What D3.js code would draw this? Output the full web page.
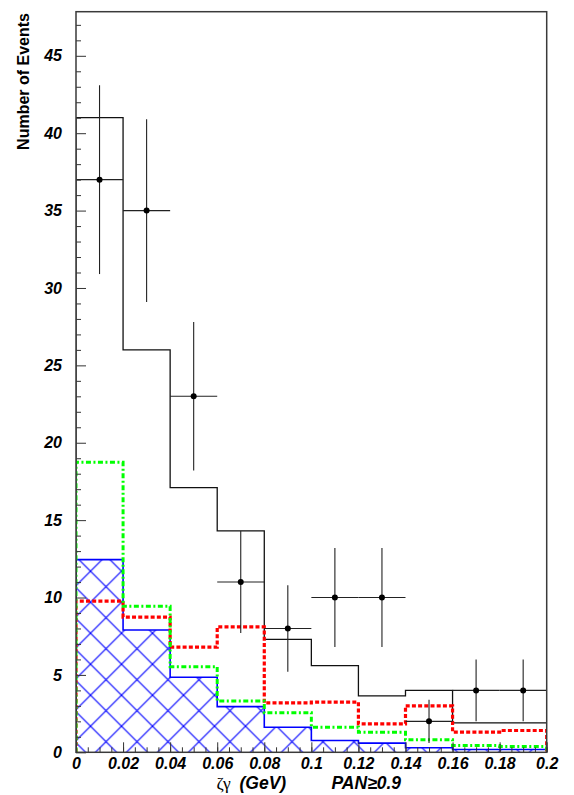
<!DOCTYPE html>
<html>
<head>
<meta charset="utf-8">
<script src="https://cdn.jsdelivr.net/npm/d3@7"></script>
<style>
  html, body { margin: 0; padding: 0; background: #fff; }
  svg { display: block; }
</style>
</head>
<body>
<script>
// ---- data ----
const binEdges = [0, 0.02, 0.04, 0.06, 0.08, 0.10, 0.12, 0.14, 0.16, 0.18, 0.20];
const totalMC = [41.0, 26.0, 17.1, 14.3, 7.3, 5.6, 3.65, 4.0, 1.9, 1.9];
const blueBkg = [12.45, 7.9, 4.85, 2.95, 1.62, 0.76, 0.59, 0.29, 0.18, 0.18];
const redDashed = [9.77, 8.74, 6.8, 8.1, 3.19, 3.24, 1.84, 3.0, 1.3, 1.41];
const greenDashDot = [18.74, 9.43, 5.52, 3.32, 2.55, 1.62, 1.3, 0.81, 0.44, 0.38];
const dataX = [0.01, 0.03, 0.05, 0.07, 0.09, 0.11, 0.13, 0.15, 0.17, 0.19];
const dataY = [37, 35, 23, 11, 8, 10, 10, 2, 4, 4];
const dataErr = [6.1, 5.9, 4.8, 3.3, 2.8, 3.2, 3.2, 1.4, 2.0, 2.0];
const xTickValues = [0, 0.02, 0.04, 0.06, 0.08, 0.1, 0.12, 0.14, 0.16, 0.18, 0.2];
const yTickValues = [0, 5, 10, 15, 20, 25, 30, 35, 40, 45];
const xTitleVar = "ζγ";
const xTitleUnit = "(GeV)";
const cutLabel = "PAN≥0.9";
const yTitle = "Number of Events";

// ---- layout ----
const W = 574, H = 795;
const L = 76, R = 546.7, T = 11.7, B = 752.3;
const yMax = 47.85;

const svg = d3.select("body").append("svg").attr("width", W).attr("height", H);
const x = d3.scaleLinear().domain([0, 0.2]).range([L, R]);
const y = d3.scaleLinear().domain([0, yMax]).range([B, T]);

const defs = svg.append("defs");
defs.append("clipPath").attr("id", "plotclip")
  .append("rect").attr("x", L).attr("y", T).attr("width", R - L).attr("height", B - T);
const pat = defs.append("pattern").attr("id", "hatch")
  .attr("patternUnits", "userSpaceOnUse")
  .attr("x", 90.5).attr("y", 726.2).attr("width", 31).attr("height", 31);
pat.append("path").attr("d", "M-2,-2L33,33M-2,33L33,-2")
  .attr("stroke", "#0000ff").attr("stroke-width", 1.15).attr("fill", "none");

function stepPoints(vals) {
  const pts = [[binEdges[0], 0]];
  vals.forEach((v, i) => { pts.push([binEdges[i], v]); pts.push([binEdges[i + 1], v]); });
  pts.push([binEdges[binEdges.length - 1], 0]);
  return pts;
}
const line = d3.line().x(d => x(d[0])).y(d => y(d[1]));

const plot = svg.append("g").attr("clip-path", "url(#plotclip)");

// blue hatched
plot.append("path").attr("d", line(stepPoints(blueBkg)) + "Z")
  .attr("fill", "url(#hatch)").attr("stroke", "none");
plot.append("path").attr("d", line(stepPoints(blueBkg)))
  .attr("fill", "none").attr("stroke", "#0000ff").attr("stroke-width", 1.6);

// black total
plot.append("path").attr("d", line(stepPoints(totalMC)))
  .attr("fill", "none").attr("stroke", "#111").attr("stroke-width", 1.3);

// red dashed
plot.append("path").attr("d", line(stepPoints(redDashed)))
  .attr("fill", "none").attr("stroke", "#ff0000").attr("stroke-width", 3.2)
  .attr("stroke-dasharray", "4,2.2");

// green dash-dot
plot.append("path").attr("d", line(stepPoints(greenDashDot)))
  .attr("fill", "none").attr("stroke", "#00ff00").attr("stroke-width", 3)
  .attr("stroke-dasharray", "5,2.5,2,2.5");

// data points with error bars
const pts = plot.append("g");
dataX.forEach((cx, i) => {
  const g = pts.append("g");
  g.append("line").attr("x1", x(cx - 0.01)).attr("x2", x(cx + 0.01))
    .attr("y1", y(dataY[i])).attr("y2", y(dataY[i]))
    .attr("stroke", "#222").attr("stroke-width", 1.1);
  g.append("line").attr("x1", x(cx)).attr("x2", x(cx))
    .attr("y1", y(dataY[i] - dataErr[i])).attr("y2", y(dataY[i] + dataErr[i]))
    .attr("stroke", "#222").attr("stroke-width", 1.1);
  g.append("circle").attr("cx", x(cx)).attr("cy", y(dataY[i])).attr("r", 3).attr("fill", "#000");
});

// axes
const fontSans = "'Liberation Sans', Arial, Helvetica, sans-serif";
const xMinor = d3.range(0, 0.2001, 0.005);
const yMinor = d3.range(0, 48).filter(v => v % 5 !== 0);

const xAxisMinor = svg.append("g").attr("transform", `translate(0,${B})`)
  .call(d3.axisBottom(x).tickValues(xMinor).tickSize(-5).tickFormat(""));
const xAxis = svg.append("g").attr("transform", `translate(0,${B})`)
  .call(d3.axisBottom(x).tickValues(xTickValues).tickSize(-10).tickPadding(5.5)
    .tickFormat(d => String(d)));
const yAxisMinor = svg.append("g").attr("transform", `translate(${L},0)`)
  .call(d3.axisLeft(y).tickValues(yMinor).tickSize(-5).tickFormat(""));
const yAxis = svg.append("g").attr("transform", `translate(${L},0)`)
  .call(d3.axisLeft(y).tickValues(yTickValues).tickSize(-10).tickPadding(14)
    .tickFormat(d => String(d)));

[xAxisMinor, xAxis, yAxisMinor, yAxis].forEach(a => {
  a.select(".domain").remove();
  a.selectAll(".tick line").attr("stroke", "#333").attr("stroke-width", 1);
  a.selectAll("text").attr("font-family", fontSans).attr("font-size", 16)
    .attr("font-weight", "bold").attr("font-style", "italic").attr("fill", "#000");
});

// frame
svg.append("rect").attr("x", L).attr("y", T).attr("width", R - L).attr("height", B - T)
  .attr("fill", "none").attr("stroke", "#3a3a3a").attr("stroke-width", 1.5);

// titles
const titleY = 788.5;
svg.append("text").attr("x", 216.5).attr("y", titleY)
  .attr("font-family", "'Liberation Serif', 'DejaVu Serif', serif").attr("font-size", 17.5)
  .text(xTitleVar);
svg.append("text").attr("x", 239.5).attr("y", titleY)
  .attr("font-family", fontSans).attr("font-size", 17.5).attr("font-weight", "bold")
  .attr("font-style", "italic").text(xTitleUnit);
svg.append("text").attr("x", 331.5).attr("y", titleY)
  .attr("font-family", fontSans).attr("font-size", 17.5).attr("font-weight", "bold")
  .attr("font-style", "italic").text(cutLabel);
svg.append("text")
  .attr("transform", "translate(28.5,13) rotate(-90)")
  .attr("text-anchor", "end")
  .attr("font-family", fontSans).attr("font-size", 16).attr("font-weight", "bold")
  .text(yTitle);
</script>
</body>
</html>
